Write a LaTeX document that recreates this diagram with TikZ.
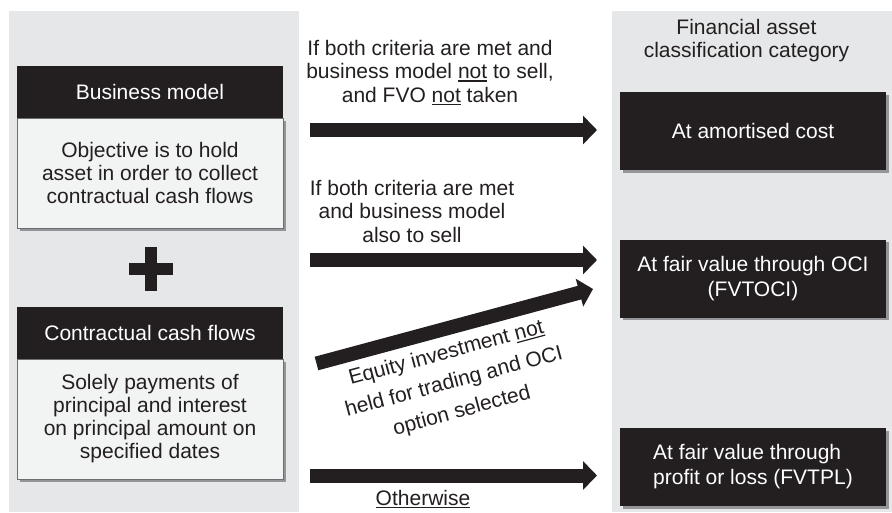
\documentclass[tikz,border=0pt]{standalone}
\usepackage{fontspec}
\setmainfont{Liberation Sans}
\usetikzlibrary{arrows.meta,shadows}
\definecolor{panel}{HTML}{E6E7E8}
\definecolor{ink}{HTML}{231F20}
\definecolor{boxfill}{HTML}{F2F3F3}
\definecolor{boxline}{HTML}{6D6E71}
\definecolor{shade}{HTML}{939598}
\newcommand{\mlines}[1]{\begin{tabular}[t]{@{}c@{}}#1\end{tabular}}
\newcommand{\undl}[1]{\setbox0\hbox{#1}\rlap{\rule[-3pt]{\wd0}{1.2pt}}\box0\relax}
\begin{document}
\begin{tikzpicture}[x=1pt,y=-1pt,
  every node/.style={inner sep=0pt, outer sep=0pt},
  txt/.style={font=\fontsize{21}{23.5}\selectfont, text=ink},
  hdr/.style={fill=ink, text=white, font=\fontsize{21}{23.5}\selectfont,
    minimum width=266pt, minimum height=52pt},
  descbox/.style={fill=boxfill, draw=boxline, line width=0.8pt, text=ink,
    align=center, font=\fontsize{21}{23}\selectfont, minimum width=266pt,
    drop shadow={shadow xshift=2.5pt, shadow yshift=-2.5pt, fill=shade, opacity=1}},
  catbox/.style={fill=ink, text=white, font=\fontsize{21}{25}\selectfont,
    minimum width=266pt, minimum height=78pt,
    drop shadow={shadow xshift=2.5pt, shadow yshift=-2.5pt, fill=shade, opacity=1}},
  bigarrow/.style={line width=14pt, draw=ink,
    -{Triangle[length=14pt 0 0, width=28pt 0 0]}},
]
\useasboundingbox (0,0) rectangle (892,512);
\fill[white] (0,0) rectangle (892,512);
% panels
\fill[panel] (9,11) rectangle (299,512);
\fill[panel] (612,11) rectangle (892,512);

% left column
\node[descbox, minimum height=110pt] (bmt) at (150,173)
  {Objective is to hold\\asset in order to collect\\contractual cash flows};
\node[hdr] (bmh) at (150,92) {Business model};

\fill[ink] (129,263) rectangle (173,275);
\fill[ink] (145,247) rectangle (157,291);

\node[descbox, minimum height=120pt] (cct) at (150,419)
  {Solely payments of\\principal and interest\\on principal amount on\\specified dates};
\node[hdr] (cch) at (150,333) {Contractual cash flows};

% right column
\node[txt, anchor=base] (cathead) at (746.5,34)
  {\mlines{Financial asset\\classification category}};
\node[catbox] (amc) at (753,131) {At amortised cost};
\node[catbox, align=center] (oci) at (753,278.5)
  {At fair value through OCI\\(FVTOCI)};
\node[catbox, align=left] (tpl) at (753,467)
  {At fair value through\\profit or loss (FVTPL)};

% arrows
\coordinate (a1s) at (310,130); \coordinate (a1e) at (597,130);
\coordinate (a2s) at (310,260); \coordinate (a2e) at (597,260);
\coordinate (a3s) at (310,475.5); \coordinate (a3e) at (597,475.5);
\coordinate (a4s) at (316.5,363.5); \coordinate (a4e) at (593,289);
\draw[bigarrow] (a1s) -- (a1e);
\draw[bigarrow] (a2s) -- (a2e);
\draw[bigarrow] (a3s) -- (a3e);
\draw[bigarrow] (a4s) -- (a4e);

% labels
\node[txt, anchor=base] (l1) at (430,55)
  {\mlines{If both criteria are met and\\business model \undl{not} to sell,\\and FVO \undl{not} taken}};
\node[txt, anchor=base] (l2) at (412,195)
  {\mlines{If both criteria are met\\and business model\\also to sell}};
\node[txt, anchor=base] (l3) at (423,505) {\undl{Otherwise}};
\node[rotate=15.08, font=\fontsize{21}{30}\selectfont, text=ink] (l4) at (454,382)
  {\begin{tabular}{@{}c@{}}Equity investment \undl{not}\\held for trading and OCI\\option selected\end{tabular}};
\end{tikzpicture}
\end{document}
